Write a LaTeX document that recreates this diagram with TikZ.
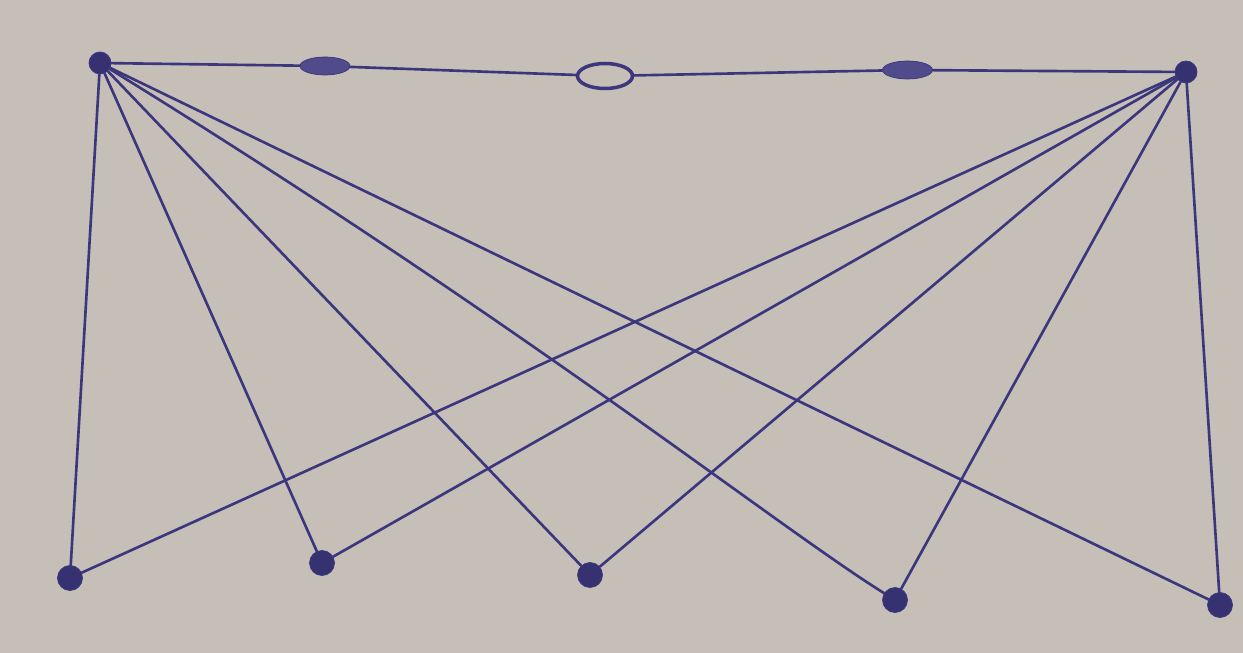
\documentclass[tikz,border=0pt]{standalone}
\definecolor{paperGray}{RGB}{198,191,184}
\definecolor{inkBlue}{RGB}{60,55,125}
\usepackage{tikz}
\usetikzlibrary{arrows.meta,positioning,shapes.geometric,calc}
\begin{document}
\begin{tikzpicture}[
    vert/.style={circle, draw=inkBlue, fill=inkBlue!90!black, inner sep=0pt,
                 minimum size=5mm},
    topvert/.style={circle, draw=inkBlue, fill=inkBlue!90!black, inner sep=0pt,
                 minimum size=4.4mm},
    dotmark/.style={ellipse, draw=inkBlue, fill=inkBlue!90, inner sep=0pt,
                 minimum width=10mm, minimum height=3.6mm},
    openmark/.style={ellipse, draw=inkBlue, line width=2pt, fill=paperGray,
                 inner sep=0pt, minimum width=11mm, minimum height=5mm},
    link/.style={inkBlue, line width=1.5pt, line cap=round}
  ]
  \useasboundingbox (0,0) rectangle (24.86,-13.06);
  \fill[paperGray] (0,0) rectangle (24.86,-13.06);

  \node[topvert] (tl) at (2.0,-1.26)   {};
  \node[topvert] (tr) at (23.72,-1.44) {};
  \node[dotmark]  (m1) at (6.5,-1.32)  {};
  \node[openmark] (m2) at (12.1,-1.52) {};
  \node[dotmark]  (m3) at (18.15,-1.4) {};

  \node[vert] (b1) at (1.4,-11.56)  {};
  \node[vert] (b2) at (6.44,-11.26) {};
  \node[vert] (b3) at (11.8,-11.5)  {};
  \node[vert] (b4) at (17.9,-12.0)  {};
  \node[vert] (b5) at (24.4,-12.1)  {};

  \draw[link] (tl)--(m1)--(m2)--(m3)--(tr);

  \draw[link] (tl)--(b1);
  \draw[link] (tl)--(b2);
  \draw[link] (tl)--(b3);
  \draw[link] (tl) .. controls (10.5,-6.5) and (15.5,-10.5) .. (b4);
  \draw[link] (tl)--(b5);

  \draw[link] (tr)--(b1);
  \draw[link] (tr)--(b2);
  \draw[link] (tr)--(b3);
  \draw[link] (tr)--(b4);
  \draw[link] (tr)--(b5);
\end{tikzpicture}
\end{document}
